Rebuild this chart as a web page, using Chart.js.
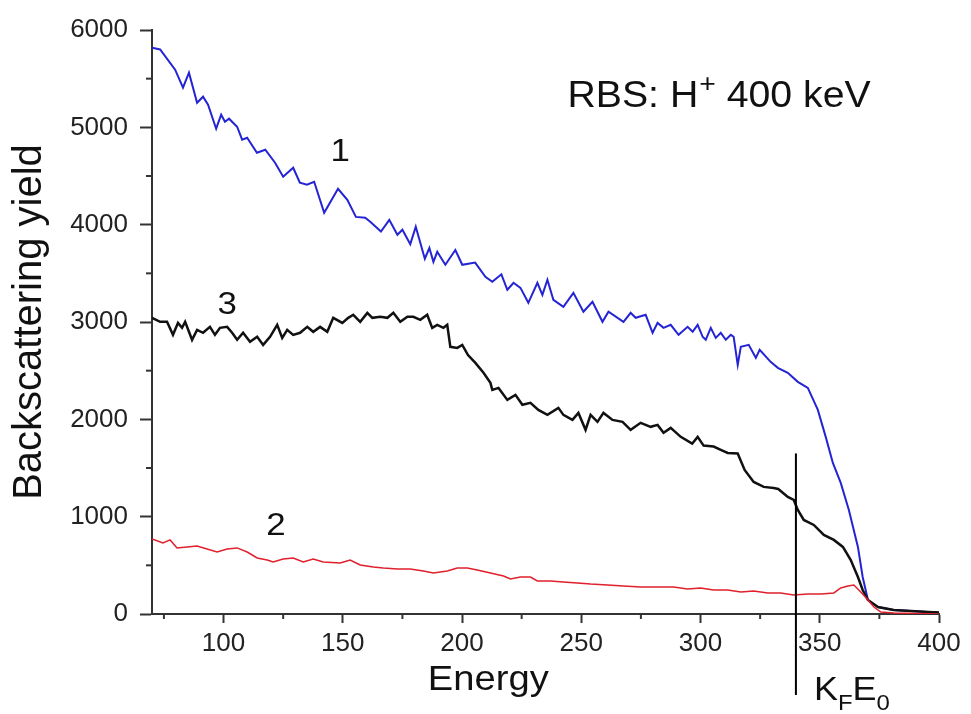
<!DOCTYPE html>
<html>
<head>
<meta charset="utf-8">
<script src="https://cdn.jsdelivr.net/npm/chart.js@4.4.1/dist/chart.umd.min.js"></script>
<style>
  body { margin: 0; background: #fff; }
  #wrap { width: 971px; height: 714px; position: relative; }
</style>
</head>
<body>
<div id="wrap"><canvas id="rbsChart"></canvas></div>
<script>
// curve 1 (blue)
const energy1 = [70, 73.4, 79.7, 83, 85.5, 88.9, 91.4, 93.5, 96.9, 99, 100.6, 102.3, 105.7, 107.8, 109.9, 114, 117.5, 121.6, 125, 129.2, 132, 135, 138, 142.2, 148, 151.9, 155.5, 159.4, 161.5, 166, 169.5, 172.9, 175, 178.3, 180.6, 184.4, 186.3, 188, 189.6, 193, 197.2, 200.1, 205.5, 209.8, 212.7, 216.5, 219, 221.6, 224.5, 227.8, 231.6, 233.7, 235.8, 238.3, 242.5, 246.7, 250.9, 254.7, 258.9, 261.4, 267.7, 270.7, 272.8, 277, 279.9, 282, 284.5, 287.5, 290.8, 294.6, 296.7, 298.8, 300.9, 302.2, 304.3, 306.4, 308.5, 310.6, 312.7, 313.9, 315.6, 316.9, 320.2, 323.2, 324.8, 329.4, 332.4, 336.6, 340.8, 345, 349.2, 352.5, 355.5, 358.8, 362.2, 366, 368, 370.2, 374.4, 381, 395.4, 400];
const yield1 = [5818, 5800, 5592, 5407, 5561, 5253, 5315, 5232, 4986, 5130, 5058, 5089, 5006, 4873, 4893, 4739, 4770, 4636, 4492, 4585, 4431, 4410, 4441, 4122, 4369, 4256, 4080, 4071, 4030, 3930, 4050, 3896, 3948, 3800, 3978, 3650, 3760, 3618, 3721, 3588, 3740, 3588, 3610, 3464, 3413, 3490, 3331, 3403, 3351, 3197, 3403, 3279, 3434, 3228, 3156, 3300, 3105, 3207, 3002, 3105, 3002, 3094, 3043, 3074, 2889, 2991, 2940, 2971, 2868, 2950, 2899, 2971, 2848, 2817, 2940, 2837, 2889, 2817, 2868, 2848, 2560, 2745, 2765, 2632, 2714, 2591, 2529, 2478, 2385, 2323, 2097, 1820, 1552, 1347, 1069, 689, 380, 144, 72, 41, 20, 15];

// curve 2 (red)
const energy2 = [70, 74.6, 77.6, 80.5, 84.7, 88.9, 93.1, 97.3, 101.5, 105.7, 109.9, 114.1, 118.3, 120.8, 125, 129.2, 133.4, 137.6, 141.8, 148.9, 153.1, 157.3, 162.8, 167, 172.9, 178.3, 183.8, 188, 193.8, 198, 202.2, 206.4, 211.9, 217.4, 220.3, 224.5, 228.7, 231.6, 237, 242.5, 248.4, 253.9, 261, 267.7, 274.9, 282, 288.7, 294.6, 300, 305.5, 311.4, 316.9, 322.3, 328.2, 333.6, 339.1, 345, 350.6, 355.9, 358.8, 361.8, 364.3, 367.2, 370.2, 372.7, 375.6, 381, 400];
const yield2 = [771, 730, 761, 679, 689, 699, 668, 637, 668, 679, 637, 576, 555, 535, 565, 576, 535, 565, 535, 524, 555, 504, 483, 473, 463, 463, 442, 421, 442, 473, 473, 452, 421, 391, 360, 380, 380, 339, 339, 329, 319, 308, 298, 288, 278, 278, 278, 257, 267, 247, 247, 226, 236, 216, 216, 195, 206, 206, 216, 267, 288, 298, 226, 144, 72, 20, 10, 0];

// curve 3 (black)
const energy3 = [70, 73.4, 76.3, 78.8, 80.9, 82.6, 83.9, 86.8, 88.9, 91.4, 94.3, 96.4, 98.5, 101.5, 103.6, 105.7, 108.2, 111.1, 114.1, 116.6, 119.5, 122.5, 124.6, 126.7, 129.2, 132.1, 135.1, 137.6, 140.5, 143.5, 146, 149.8, 152.3, 154.4, 157.3, 160.3, 162.4, 165.7, 168.7, 171.2, 174.1, 177.1, 179.6, 182.5, 185.4, 187.5, 189.6, 192.2, 193.8, 195.1, 198, 200.1, 202.5, 205.6, 209, 211.9, 212.7, 215.3, 219, 222.4, 225.3, 228.7, 232, 235.8, 240.4, 242.5, 246.3, 248.8, 251.8, 253.9, 256.8, 259.3, 263.1, 267.3, 270.7, 274.9, 279.1, 282, 284.5, 287.5, 291.7, 296.5, 298.8, 301.3, 305.5, 308.5, 311.4, 315.6, 318.5, 322.3, 326.5, 330.7, 332.6, 336.6, 339.1, 340.8, 343.3, 347.5, 351.7, 355.9, 359.7, 363, 366, 368, 370.2, 374.4, 381, 395.4, 400];
const yield3 = [3043, 3002, 3002, 2868, 2991, 2940, 3002, 2817, 2919, 2889, 2950, 2868, 2940, 2950, 2889, 2817, 2889, 2796, 2848, 2765, 2848, 2971, 2837, 2919, 2868, 2889, 2950, 2899, 2950, 2899, 3043, 2991, 3043, 3074, 3002, 3094, 3043, 3053, 3043, 3094, 3002, 3053, 3053, 3022, 3074, 2940, 2971, 2940, 2971, 2745, 2734, 2765, 2660, 2580, 2478, 2375, 2303, 2323, 2200, 2251, 2149, 2169, 2097, 2046, 2118, 2046, 1994, 2066, 1892, 2046, 1974, 2066, 1994, 1974, 1892, 1964, 1923, 1943, 1861, 1912, 1820, 1750, 1820, 1730, 1720, 1686, 1655, 1650, 1480, 1357, 1306, 1295, 1285, 1203, 1172, 1069, 966, 915, 812, 761, 689, 555, 380, 247, 144, 72, 41, 20, 15];

const xMinorTicks = [75, 125, 175, 225, 275, 325, 375];
const yMinorTicks = [500, 1500, 2500, 3500, 4500, 5500];

// curve numbers placed in data units
const curveLabels = [
  { text: "1", x: 148.9, y: 4740 },
  { text: "3", x: 101.5, y: 3170 },
  { text: "2", x: 122, y: 905 }
];
const kfEnergy = 340;
const kfLineTop = 1650;

function toPoints(xs, ys) {
  return xs.map((v, i) => ({ x: v, y: ys[i] }));
}

const FONT = '"Liberation Sans", Arial, sans-serif';
const AXIS = "#333";
const STRETCH = 1.09; // the source figure is slightly wider than tall

// draws text widened a little, returns its drawn width
function wideText(ctx, text, x, y) {
  ctx.save();
  ctx.translate(x, y);
  ctx.scale(STRETCH, 1);
  ctx.fillText(text, 0, 0);
  const w = ctx.measureText(text).width * STRETCH;
  ctx.restore();
  return w;
}

const annotations = {
  id: "annotations",
  afterDraw(chart) {
    const { ctx, scales: { x, y } } = chart;
    ctx.save();

    // minor ticks
    ctx.strokeStyle = AXIS;
    ctx.lineWidth = 2;
    xMinorTicks.forEach((v) => {
      const px = x.getPixelForValue(v);
      ctx.beginPath();
      ctx.moveTo(px, y.bottom);
      ctx.lineTo(px, y.bottom + 5);
      ctx.stroke();
    });
    yMinorTicks.forEach((v) => {
      const py = y.getPixelForValue(v);
      ctx.beginPath();
      ctx.moveTo(x.left - 6, py);
      ctx.lineTo(x.left, py);
      ctx.stroke();
    });

    // curve numbers
    ctx.fillStyle = "#111";
    ctx.font = "32px " + FONT;
    ctx.textAlign = "center";
    ctx.textBaseline = "middle";
    curveLabels.forEach((l) => {
      wideText(ctx, l.text, x.getPixelForValue(l.x), y.getPixelForValue(l.y));
    });

    // x axis title
    ctx.textBaseline = "alphabetic";
    ctx.font = "35px " + FONT;
    wideText(ctx, "Energy", x.getPixelForValue(211), y.bottom + 76);

    // K_F E_0 marker
    const kx = x.getPixelForValue(kfEnergy);
    ctx.strokeStyle = "#000";
    ctx.lineWidth = 2;
    ctx.beginPath();
    ctx.moveTo(kx, y.getPixelForValue(kfLineTop));
    ctx.lineTo(kx, chart.height - 19);
    ctx.stroke();

    ctx.textAlign = "left";
    let tx = kx + 18;
    const base = chart.height - 14;
    ctx.font = "33px " + FONT;
    tx += wideText(ctx, "K", tx, base);
    ctx.font = "22px " + FONT;
    tx += wideText(ctx, "F", tx, base + 10);
    ctx.font = "33px " + FONT;
    tx += wideText(ctx, "E", tx, base);
    ctx.font = "22px " + FONT;
    wideText(ctx, "0", tx, base + 10);

    // beam label
    let rx = x.getPixelForValue(244.2);
    const rb = y.getPixelForValue(5212);
    ctx.font = "36px " + FONT;
    rx += wideText(ctx, "RBS: H", rx, rb);
    ctx.font = "26px " + FONT;
    rx += wideText(ctx, "+", rx + 1, rb - 15) + 1;
    ctx.font = "36px " + FONT;
    wideText(ctx, " 400 keV", rx, rb);

    ctx.restore();
  }
};

new Chart(document.getElementById("rbsChart"), {
  type: "scatter",
  data: {
    datasets: [
      {
        label: "2",
        data: toPoints(energy2, yield2),
        showLine: true,
        borderColor: "#e0202c",
        borderWidth: 1.5,
        pointRadius: 0,
        tension: 0
      },
      {
        label: "3",
        data: toPoints(energy3, yield3),
        showLine: true,
        borderColor: "#111",
        borderWidth: 2.5,
        pointRadius: 0,
        tension: 0
      },
      {
        label: "1",
        data: toPoints(energy1, yield1),
        showLine: true,
        borderColor: "#2424d4",
        borderWidth: 2,
        pointRadius: 0,
        tension: 0
      }
    ]
  },
  options: {
    responsive: true,
    maintainAspectRatio: false,
    animation: false,
    layout: { padding: { top: 30, right: 32, left: 0, bottom: 0 } },
    plugins: {
      legend: { display: false },
      tooltip: { enabled: false }
    },
    scales: {
      x: {
        type: "linear",
        min: 70,
        max: 400,
        afterFit: (s) => { s.height = 100; },
        border: { color: AXIS, width: 2 },
        grid: { drawOnChartArea: false, tickLength: 9, tickColor: AXIS, tickWidth: 2 },
        ticks: {
          stepSize: 50,
          includeBounds: false,
          color: "#222",
          padding: 5,
          maxRotation: 0,
          callback: (v) => String(v),
          font: { family: FONT, size: 26 }
        },
        title: { display: false, text: "Energy" }
      },
      y: {
        min: 0,
        max: 6000,
        afterFit: (s) => { s.width = 152; },
        border: { color: AXIS, width: 2 },
        grid: { drawOnChartArea: false, tickLength: 12, tickColor: AXIS, tickWidth: 2 },
        ticks: {
          stepSize: 1000,
          color: "#222",
          padding: 12,
          callback: (v) => String(v),
          font: { family: FONT, size: 26 }
        },
        title: {
          display: true,
          text: "Backscattering yield",
          color: "#111",
          padding: { top: 6, bottom: 0 },
          font: { family: FONT, size: 40 }
        }
      }
    }
  },
  plugins: [annotations]
});
</script>
</body>
</html>
